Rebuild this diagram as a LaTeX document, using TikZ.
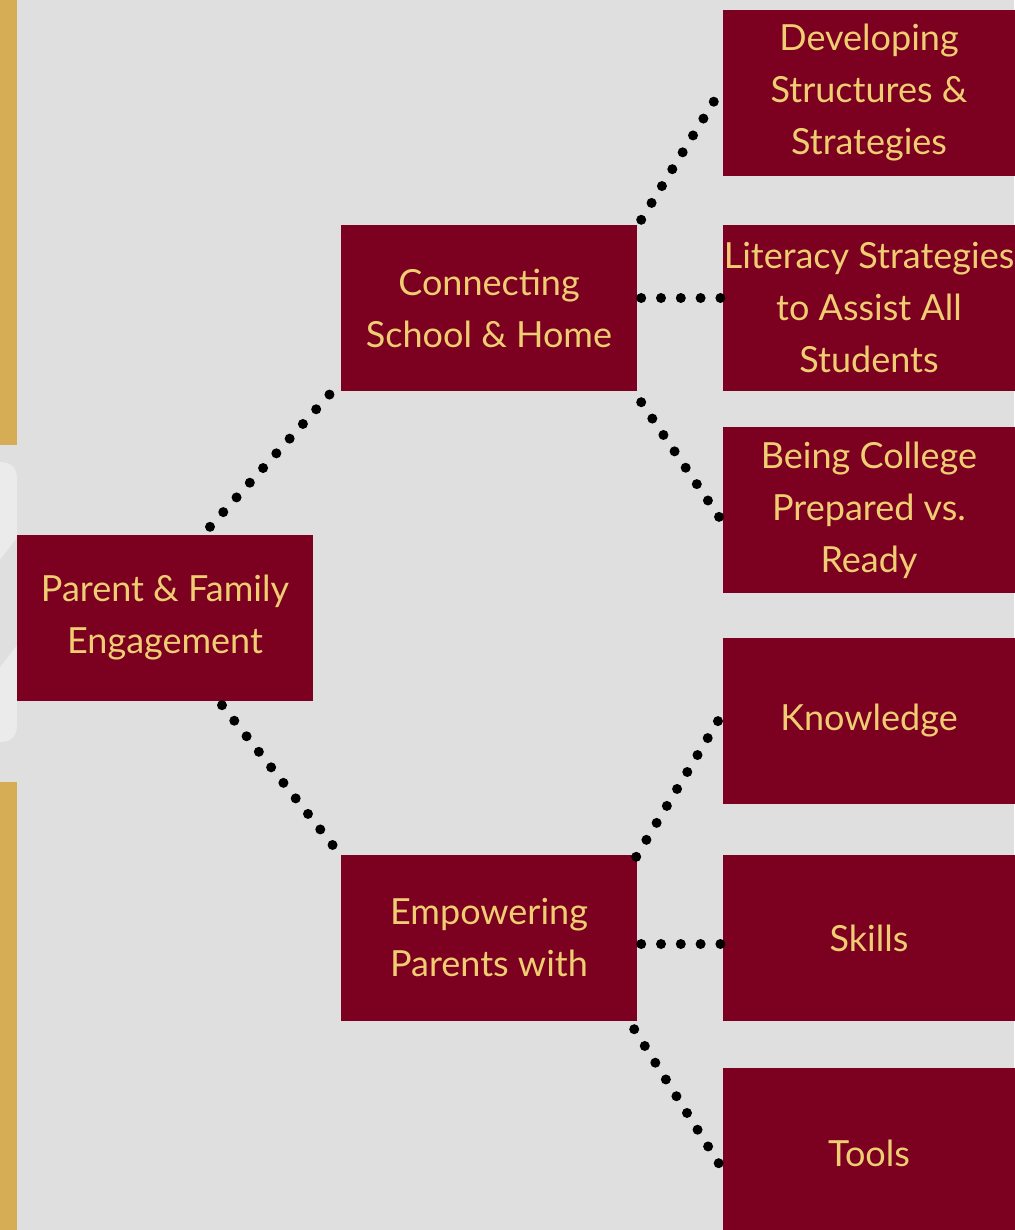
\documentclass[tikz,border=0pt]{standalone}
\usepackage{fontspec}
\setmainfont{Lato}
\definecolor{bg}{HTML}{DFDFDF}
\definecolor{maroon}{HTML}{7C0020}
\definecolor{goldtext}{HTML}{EFCD72}
\definecolor{goldbar}{HTML}{D6AD55}
\definecolor{faint}{HTML}{EBEBEB}
\tikzset{
  box/.style={fill=maroon, text=goldtext, minimum width=296pt, minimum height=166pt,
    inner sep=0pt, align=center, font=\fontsize{36}{52}\selectfont},
  leaf/.style={box, minimum width=292pt},
  dotline/.style={line width=10pt, line cap=round, dash pattern=on 0pt off 19.8pt, black}
}
\begin{document}
\begin{tikzpicture}[x=1pt,y=-1pt]
\fill[bg] (0,0) rectangle (1014,1230);
\useasboundingbox (0,0) rectangle (1014,1230);
% gold bars
\fill[goldbar] (0,0) rectangle (17,445);
\fill[goldbar] (0,782) rectangle (17,1230);
% faint background shape
\fill[faint] (-30,462) -- (0,462) .. controls (12,462) and (17,468) .. (17,480) -- (17,724) .. controls (17,736) and (12,742) .. (0,742) -- (-30,742) -- cycle;
\fill[bg] (0,560) -- (17,538) -- (17,645) -- (0,667) -- cycle;
% nodes
\node[box] (root) at (165,618) {Parent \& Family\\Engagement};
\node[box] (conn) at (489,308) {Connecting\\School \& Home};
\node[box] (emp) at (489,938) {Empowering\\Parents with};
\node[leaf] (l1) at (869,93) {Developing\\Structures \&\\Strategies};
\node[leaf] (l2) at (869,308) {Literacy Strategies\\to Assist All\\Students};
\node[leaf] (l3) at (869,510) {Being College\\Prepared vs.\\Ready};
\node[leaf] (l4) at (869,721) {Knowledge};
\node[leaf] (l5) at (869,938) {Skills};
\node[leaf, minimum height=170pt] (l6) at (869,1153) {Tools};
% connectors
\draw[dotline] ([shift={(45,-8)}]root.north) -- ([shift={(-11,3)}]conn.south west);
\draw[dotline] ([shift={(57,4)}]root.south) -- ([shift={(-6,-7)}]emp.north west);
\draw[dotline] ([shift={(4,-5)}]conn.north east) -- ([shift={(-8,7)}]l1.west);
\draw[dotline] ([shift={(4,-10)}]conn.east) -- ([shift={(-1,-10)}]l2.west);
\draw[dotline] ([shift={(4,11)}]conn.south east) -- ([shift={(-3,8)}]l3.west);
\draw[dotline] ([shift={(-1,2)}]emp.north east) -- ([shift={(-3,-3)}]l4.west);
\draw[dotline] ([shift={(4,6)}]emp.east) -- ([shift={(-1,6)}]l5.west);
\draw[dotline] ([shift={(-3,8)}]emp.south east) -- ([shift={(-3,12)}]l6.west);
\end{tikzpicture}
\end{document}
